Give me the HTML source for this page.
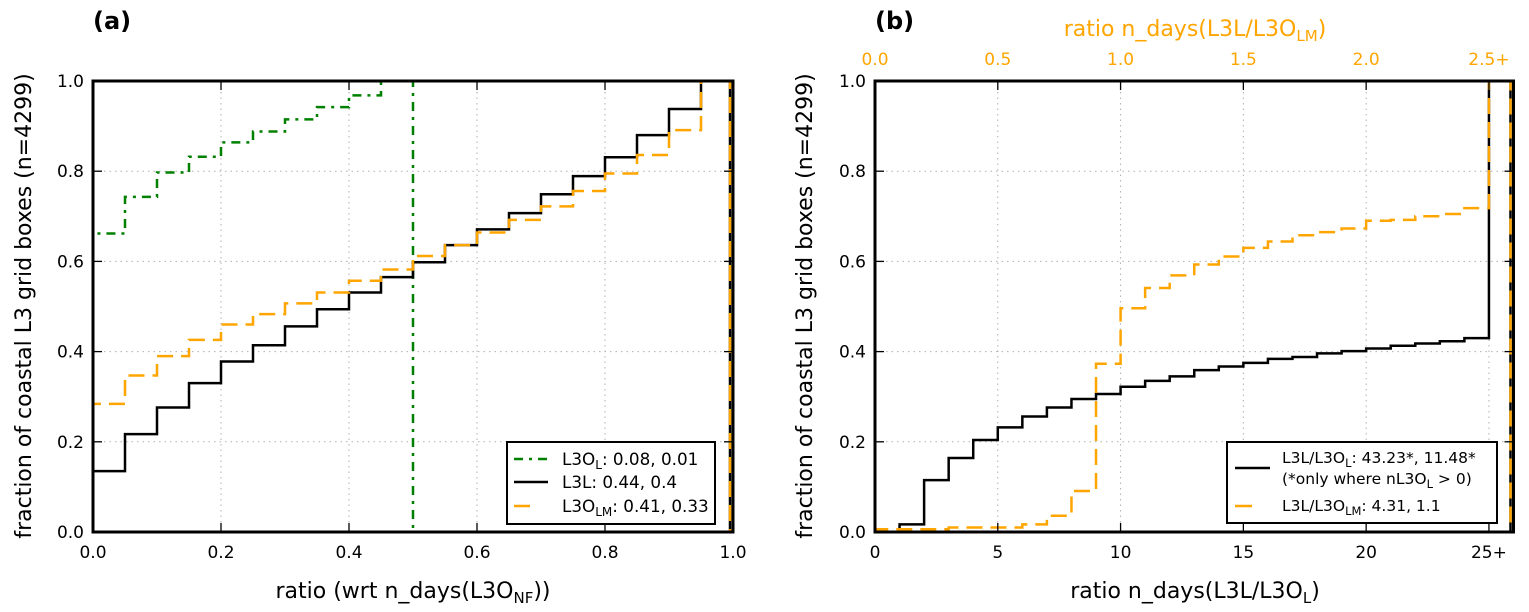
<!DOCTYPE html>
<html><head><meta charset="utf-8"><style>
html,body{margin:0;padding:0;background:#fff;}
svg{display:block;font-family:"DejaVu Sans","Liberation Sans",sans-serif;}
</style></head><body>
<svg id="fig" width="1529" height="612" viewBox="0 0 1529 612" xmlns="http://www.w3.org/2000/svg">
<g id="pa"></g>
<g id="pb"></g>
</svg>
<script>
// Panel (a): bins of width 0.05 from 0 to 1.0 (green ends at 0.5)
const aGreen = [0.662,0.743,0.797,0.832,0.864,0.888,0.915,0.942,0.968,1.0];
const aBlack = [0.135,0.217,0.276,0.330,0.378,0.414,0.456,0.494,0.531,0.565,0.598,0.636,0.671,0.707,0.749,0.789,0.831,0.880,0.938,1.0];
const aOrange = [0.284,0.347,0.390,0.426,0.460,0.483,0.507,0.531,0.557,0.582,0.612,0.636,0.664,0.692,0.722,0.756,0.795,0.836,0.891,1.0];
const aBinW = 0.05;
const aXTicks = ["0.0","0.2","0.4","0.6","0.8","1.0"];
const yTicks = ["0.0","0.2","0.4","0.6","0.8","1.0"];
// Panel (b): bins of width 1 from 0 to 26
const bBlack = [0,0.017,0.115,0.164,0.204,0.232,0.256,0.276,0.295,0.306,0.322,0.335,0.345,0.359,0.367,0.375,0.384,0.388,0.396,0.401,0.407,0.413,0.418,0.423,0.430,1.0];
const bOrange = [0.006,0.006,0.006,0.010,0.010,0.010,0.017,0.036,0.091,0.373,0.496,0.541,0.569,0.593,0.611,0.630,0.644,0.658,0.665,0.673,0.690,0.692,0.700,0.705,0.718,1.0];
const bXTicks = ["0","5","10","15","20","25+"];
const bTopTicks = ["0.0","0.5","1.0","1.5","2.0","2.5+"];

const NS="http://www.w3.org/2000/svg";
function mk(parent,tag,attrs,text){const e=document.createElementNS(NS,tag);for(const k in attrs)e.setAttribute(k,attrs[k]);if(text!==undefined)e.textContent=text;parent.appendChild(e);return e;}

const Y0=532, Y1=81;
function yS(v){return Y0-(Y0-Y1)*v;}
const TF=17, LF=16.8, AF=22;

function stepPath(vals,binW,xS,inset){
  const xe=i=>{let x=xS(i*binW); if(i===vals.length) x-=inset; return x;};
  let d="M"+xS(0)+","+yS(0);
  for(let i=0;i<vals.length;i++){
    d+=" L"+xe(i)+","+yS(vals[i])+" L"+xe(i+1)+","+yS(vals[i]);
  }
  d+=" L"+xe(vals.length)+","+yS(0);
  return d;
}

function axes(g,x0,x1,xmax,xTicks,xTickStep){
  const xS=v=>x0+(x1-x0)*v/xmax;
  for(let i=0;i<xTicks.length;i++){
    const x=xS(i*xTickStep);
    const gl=mk(g,"line",{x1:x,x2:x,y1:Y1,y2:Y0,stroke:"#b0b0b0","stroke-width":1,"stroke-dasharray":"1.5,4"});
    
    
  }
  for(let i=0;i<yTicks.length;i++){
    const y=yS(i*0.2);
    const gl=mk(g,"line",{x1:x0,x2:x1,y1:y,y2:y,stroke:"#b0b0b0","stroke-width":1,"stroke-dasharray":"1.5,4"});
    
    
  }
  return xS;
}
function frame(g,x0,x1,xmax,xTicks,xTickStep,topTicks){
  const xS=v=>x0+(x1-x0)*v/xmax;
  const r=mk(g,"rect",{x:x0,y:Y1,width:x1-x0,height:Y0-Y1,fill:"none",stroke:"#000","stroke-width":3});
  
  
  for(let i=0;i<xTicks.length;i++){
    const x=xS(i*xTickStep);
    mk(g,"line",{x1:x,x2:x,y1:Y0,y2:Y0-9,stroke:"#000","stroke-width":1.3});
    mk(g,"line",{x1:x,x2:x,y1:Y1,y2:Y1+9,stroke:"#000","stroke-width":1.3});
    const t=mk(g,"text",{x:x,y:Y0+26,"text-anchor":"middle","font-size":TF,fill:"#000"},xTicks[i]);
    
    
    if(topTicks){
      const tt=mk(g,"text",{x:x,y:Y1-16,"text-anchor":"middle","font-size":TF,fill:"#ffa500"},topTicks[i]);
      
      
    }
  }
  for(let i=0;i<yTicks.length;i++){
    const y=yS(i*0.2);
    mk(g,"line",{x1:x0,x2:x0+9,y1:y,y2:y,stroke:"#000","stroke-width":1.3});
    mk(g,"line",{x1:x1,x2:x1-9,y1:y,y2:y,stroke:"#000","stroke-width":1.3});
    const t=mk(g,"text",{x:x0-9,y:y+6,"text-anchor":"end","font-size":TF,fill:"#000"},yTicks[i]);
    
    
  }
}

const GREEN_DASH="9,6,3,6", ORANGE_DASH="16,8";

// ---------- Panel a ----------
const ga=document.getElementById("pa");
const xa=axes(ga,93,733,1.0,aXTicks,0.2);
let p;
p=mk(ga,"path",{d:stepPath(aGreen,aBinW,xa,0),fill:"none",stroke:"#008000","stroke-width":2.5,"stroke-dasharray":GREEN_DASH});


p=mk(ga,"path",{d:stepPath(aBlack,aBinW,xa,3),fill:"none",stroke:"#000","stroke-width":2.5});


p=mk(ga,"path",{d:stepPath(aOrange,aBinW,xa,3),fill:"none",stroke:"#ffa500","stroke-width":2.5,"stroke-dasharray":ORANGE_DASH});


frame(ga,93,733,1.0,aXTicks,0.2,null);
let t;
t=mk(ga,"text",{x:93,y:29,"font-size":24,"font-weight":"bold"},"(a)");


t=mk(ga,"text",{x:413,y:598,"text-anchor":"middle","font-size":AF});


t.innerHTML='ratio (wrt n_days(L3O<tspan font-size="15" dy="5">NF</tspan><tspan dy="-5">))</tspan>';
t=mk(ga,"text",{x:0,y:0,"text-anchor":"middle","font-size":AF,transform:"translate(31,306) rotate(-90)"},"fraction of coastal L3 grid boxes (n=4299)");


// legend a
const la=mk(ga,"g",{});


mk(la,"rect",{x:507,y:442,width:208,height:82,fill:"#fff",stroke:"#000","stroke-width":2});
mk(la,"line",{x1:514,x2:548,y1:459,y2:459,stroke:"#008000","stroke-width":2.5,"stroke-dasharray":GREEN_DASH});
mk(la,"line",{x1:514,x2:548,y1:482,y2:482,stroke:"#000","stroke-width":2.5});
mk(la,"line",{x1:514,x2:530,y1:506,y2:506,stroke:"#ffa500","stroke-width":2.5});
t=mk(la,"text",{x:562,y:465,"font-size":LF});t.innerHTML='L3O<tspan font-size="12" dy="4">L</tspan><tspan dy="-4">: 0.08, 0.01</tspan>';

t=mk(la,"text",{x:562,y:488,"font-size":LF},"L3L: 0.44, 0.4");

t=mk(la,"text",{x:562,y:512,"font-size":LF});t.innerHTML='L3O<tspan font-size="12" dy="4">LM</tspan><tspan dy="-4">: 0.41, 0.33</tspan>';


// ---------- Panel b ----------
const gb=document.getElementById("pb");
const bx0=875, bx1=1513.5;
const xb=axes(gb,bx0,bx1,26,bXTicks,5);
p=mk(gb,"path",{d:stepPath(bBlack,1,xb,3),fill:"none",stroke:"#000","stroke-width":2.5});


p=mk(gb,"path",{d:stepPath(bOrange,1,xb,3),fill:"none",stroke:"#ffa500","stroke-width":2.5,"stroke-dasharray":ORANGE_DASH});


frame(gb,bx0,bx1,26,bXTicks,5,bTopTicks);
t=mk(gb,"text",{x:875,y:29,"font-size":24,"font-weight":"bold"},"(b)");


t=mk(gb,"text",{x:1195,y:598,"text-anchor":"middle","font-size":AF});
t.innerHTML='ratio n_days(L3L/L3O<tspan font-size="15" dy="5">L</tspan><tspan dy="-5">)</tspan>';


t=mk(gb,"text",{x:1195,y:36,"text-anchor":"middle","font-size":AF,fill:"#ffa500"});
t.innerHTML='ratio n_days(L3L/L3O<tspan font-size="15" dy="5">LM</tspan><tspan dy="-5">)</tspan>';


t=mk(gb,"text",{x:0,y:0,"text-anchor":"middle","font-size":AF,transform:"translate(812,306) rotate(-90)"},"fraction of coastal L3 grid boxes (n=4299)");


const lb=mk(gb,"g",{});


mk(lb,"rect",{x:1227,y:442,width:270,height:81,fill:"#fff",stroke:"#000","stroke-width":2});
mk(lb,"line",{x1:1235,x2:1270,y1:468,y2:468,stroke:"#000","stroke-width":2.5});
mk(lb,"line",{x1:1235,x2:1252,y1:506,y2:506,stroke:"#ffa500","stroke-width":2.5});
t=mk(lb,"text",{x:1282,y:463,"font-size":15.5});t.innerHTML='L3L/L3O<tspan font-size="11.5" dy="4">L</tspan><tspan dy="-4">: 43.23*, 11.48*</tspan>';

t=mk(lb,"text",{x:1282,y:484,"font-size":15.5});t.innerHTML='(*only where nL3O<tspan font-size="11.5" dy="4">L</tspan><tspan dy="-4"> &gt; 0)</tspan>';

t=mk(lb,"text",{x:1282,y:511,"font-size":15.5});t.innerHTML='L3L/L3O<tspan font-size="11.5" dy="4">LM</tspan><tspan dy="-4">: 4.31, 1.1</tspan>';

</script>
</body></html>
